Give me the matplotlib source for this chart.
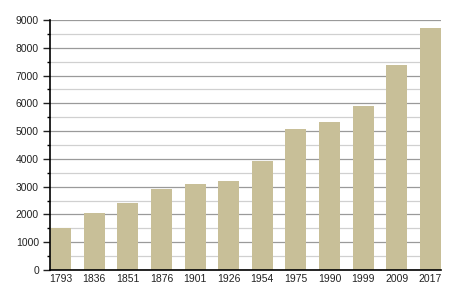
import matplotlib
matplotlib.use('Agg')
import matplotlib.pyplot as plt
from matplotlib.ticker import MultipleLocator

years = ['1793', '1836', '1851', '1876', '1901', '1926', '1954',
         '1975', '1990', '1999', '2009', '2017']
population = [1530, 2070, 2400, 2900, 3110, 3220, 3920,
              5080, 5330, 5900, 7370, 8700]

plt.rcParams['font.family'] = ['Liberation Sans', 'DejaVu Sans']

fig = plt.figure(figsize=(4.5, 3), dpi=100)
ax = fig.add_axes([50 / 450, 30 / 300, 391 / 450, 250 / 300])

x = list(range(len(years)))
ax.bar(x, population, width=0.625, color='#c8bf98', zorder=3)

ax.set_ylim(0, 9000)
ax.set_xlim(-0.3125, len(years) - 1 + 0.3125)
ax.yaxis.set_major_locator(MultipleLocator(1000))
ax.yaxis.set_minor_locator(MultipleLocator(500))
ax.grid(True, axis='y', which='major', color='#9a9a9a', linewidth=0.9, zorder=1)
ax.grid(True, axis='y', which='minor', color='#d0d0d0', linewidth=0.9, zorder=1)

ax.set_xticks(x)
ax.set_xticklabels(years)
ax.tick_params(axis='x', length=0, pad=3, labelsize=7.5, colors='#222222')
ax.tick_params(axis='y', which='major', length=5, width=1, pad=3, labelsize=7.5, colors='#222222')
ax.tick_params(axis='y', which='minor', length=2.5, width=1)

for side in ('top', 'right'):
    ax.spines[side].set_visible(False)
ax.spines['left'].set_linewidth(1.2)
ax.spines['bottom'].set_linewidth(1.2)
ax.spines['left'].set_zorder(4)
ax.spines['bottom'].set_zorder(4)

fig.savefig('out.png', dpi=100)
